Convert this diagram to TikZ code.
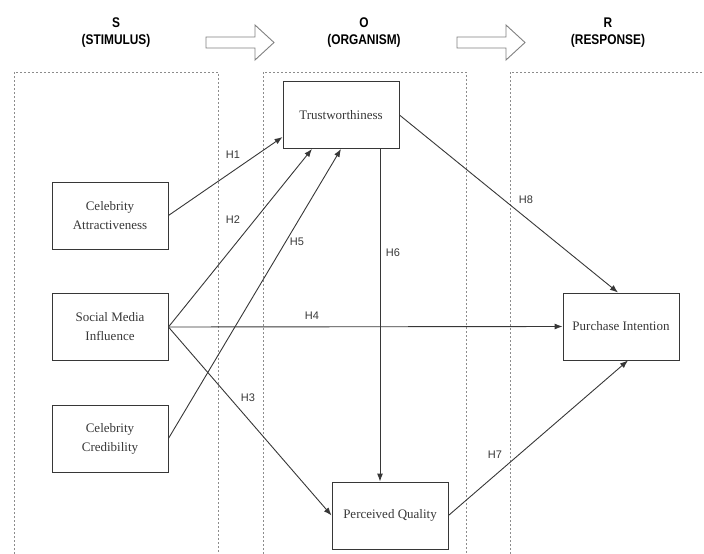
\documentclass[tikz,border=0pt]{standalone}
\usepackage{fontspec}
\setmainfont{Liberation Serif}
\newfontfamily\headfont[FakeStretch=0.85]{Liberation Sans}
\newfontfamily\hypfont{Liberation Sans}
\usepackage{xcolor}
\usetikzlibrary{arrows.meta}
\definecolor{ink}{RGB}{55, 55, 55}
\definecolor{frame}{RGB}{140, 140, 140}

\begin{document}
\begin{tikzpicture}[x=1pt, y=-1pt,
    box/.style={draw=ink, line width=0.9pt, text=ink, minimum width=116pt, minimum height=67pt, align=center, font=\fontsize{13}{19}\selectfont},
    stage/.style={draw=frame, line width=1pt, dash pattern=on 2pt off 2pt},
    hyp/.style={-{Latex[length=8pt, width=6pt]}, line width=0.9pt, ink},
    hlab/.style={text=ink, font=\hypfont\fontsize{11}{13}\selectfont},
    head/.style={align=center, font=\headfont\bfseries\fontsize{14}{17}\selectfont},
    flow/.style={draw=gray, line width=0.9pt, fill=white}]
\useasboundingbox (0,0) rectangle (704,554);

% Stage frames
\draw[stage] (14,554) |- (218,72) -- (218,554);
\draw[stage] (263,554) |- (466,72) -- (466,554);
\draw[stage] (510,554) |- (704,72);

% Headings
\foreach \x/\l/\t in {116/S/STIMULUS, 364/O/ORGANISM, 608/R/RESPONSE}{
    \node[head] (\t) at (\x,33) {\l\\(\t)};
}
\foreach \x in {206, 457}{
    \draw[flow] (\x,37) -- ++(49,0) -- ++(0,-12) -- ++(19,17.5) -- ++(-19,17.5) -- ++(0,-12) -- ++(-49,0) -- cycle;
}

% Constructs
\node[box] (attract) at (110,215.5) {Celebrity\\Attractiveness};
\node[box] (social) at (110,327) {Social Media\\Influence};
\node[box] (cred) at (110,438.5) {Celebrity\\Credibility};
\node[box] (trust) at (341,115) {Trustworthiness};
\node[box] (quality) at (390,515.5) {Perceived Quality};
\node[box] (intent) at (621,326.5) {Purchase Intention};

% Hypotheses
\draw[hyp] (attract.east) -- ([yshift=-22pt]trust.west);
\draw[hyp] (social.east) -- ([xshift=-29pt]trust.south);
\draw[hyp] (social.east) -- (quality.west);
\draw[hyp] (social.east) -- (intent.west);
\draw[hyp] (cred.east) -- (trust.south);
\draw[hyp] ([xshift=39pt]trust.south) -- ([xshift=39pt]trust.south |- quality.north);
\draw[hyp] (quality.east) -- ([xshift=7pt]intent.south);
\draw[hyp] (trust.east) -- ([xshift=-3pt]intent.north);

\foreach \n/\x/\y in {H1/233/155, H2/233/220, H3/248/398, H4/312/316, H5/297/242, H6/393/253, H7/495/455, H8/526/200}{
    \node[hlab] (\n) at (\x,\y) {\n};
}

\end{tikzpicture}
\end{document}
